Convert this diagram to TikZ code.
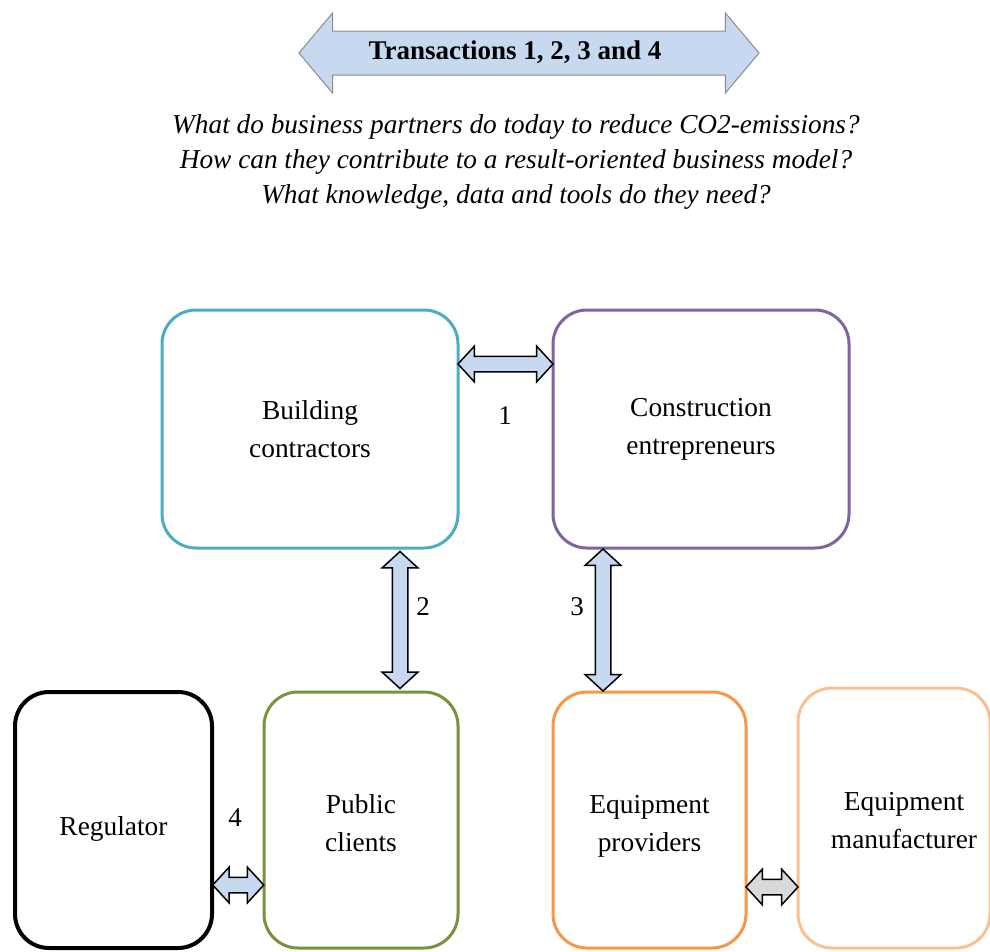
\documentclass[tikz,border=0pt]{standalone}
\usepackage{fontspec}
\setmainfont{Liberation Serif}
\usetikzlibrary{shapes.arrows,calc}
\definecolor{ccyan}{HTML}{4BACC6}
\definecolor{cpurple}{HTML}{8064A2}
\definecolor{cgreen}{HTML}{77933C}
\definecolor{corange}{HTML}{F79646}
\definecolor{clorange}{HTML}{FAC090}
\definecolor{afill}{HTML}{C6D9F1}
\definecolor{gfill}{HTML}{D9D9D9}
\definecolor{aborder}{HTML}{8C8C8C}
\newcommand{\mybtext}[3]{\raisebox{#2}[\height][\depth]{\hspace*{#1}\begin{tabular}{@{}c@{}}#3\end{tabular}}}
\begin{document}
\begin{tikzpicture}[x=1pt,y=-1pt,
  box/.style={draw, line width=3pt, rounded corners=34pt, align=center,
    font=\fontsize{27.4}{38}\selectfont, inner sep=0pt},
  darrow/.style={double arrow, draw=black, line width=1.5pt, fill=afill,
    inner xsep=0pt, inner ysep=7pt, double arrow head extend=10pt,
    double arrow tip angle=95, minimum width=0pt},
  lbl/.style={font=\fontsize{27}{30}\selectfont, inner sep=0pt}]
\useasboundingbox (0,0) rectangle (990,951);
% top arrow
\node[double arrow, draw=aborder, line width=1pt, fill=afill, minimum height=460pt,
  inner xsep=0pt, inner ysep=9.5pt, text height=18pt, text depth=6pt,
  double arrow head extend=18pt, double arrow tip angle=100,
  font=\bfseries\fontsize{27}{30}\selectfont] (top) at (529,53) {Transactions 1, 2, 3 and 4\hspace*{28pt}};
\node[align=center, font=\itshape\fontsize{27.3}{35}\selectfont] (q) at (516,162)
  {What do business partners do today to reduce CO2-emissions?\\
   How can they contribute to a result-oriented business model?\\
   What knowledge, data and tools do they need?};
% boxes
\node[box, draw=ccyan, minimum width=296pt, minimum height=238pt] (bc) at (310,429) {Building\\contractors};
\node[box, draw=cpurple, minimum width=296pt, minimum height=238pt] (ce) at (701,429) {Construction\\entrepreneurs};
\node[box, draw=black, line width=4pt, minimum width=197pt, minimum height=256pt] (reg) at (113.5,820) {\mybtext{0pt}{-8pt}{Regulator}};
\node[box, draw=cgreen, minimum width=194pt, minimum height=256pt] (pc) at (361,820) {\mybtext{0pt}{-5pt}{Public\\clients}};
\node[box, draw=corange, minimum width=193pt, minimum height=256pt] (ep) at (649.5,820) {\mybtext{0pt}{-5pt}{Equipment\\providers}};
\node[box, draw=clorange, minimum width=192pt, minimum height=260pt] (em) at (894,818) {\mybtext{20pt}{-4pt}{Equipment\\manufacturer}};
% connectors
\path (bc.east |- 0,364) -- (ce.west |- 0,364) node[midway, darrow, minimum height=95pt] (a1) {};
\path (400,0 |- bc.south) -- (400,0 |- pc.north) node[midway, darrow, rotate=90, minimum height=137pt] (a2) {};
\path (603,0 |- ce.south) -- (603,0 |- ep.north) node[midway, darrow, rotate=90, minimum height=142pt] (a3) {};
\path (reg.east |- 0,885) -- (pc.west |- 0,885) node[midway, darrow, minimum height=51pt] (a4) {};
\path (ep.east |- 0,887) -- (em.west |- 0,887) node[midway, darrow, fill=gfill, minimum height=52pt] (a5) {};
% labels
\node[lbl] (l1) at (505,416) {1};
\node[lbl] (l2) at (423,607) {2};
\node[lbl] (l3) at (577,607) {3};
\node[lbl] (l4) at (235,818) {4};
\end{tikzpicture}
\end{document}
